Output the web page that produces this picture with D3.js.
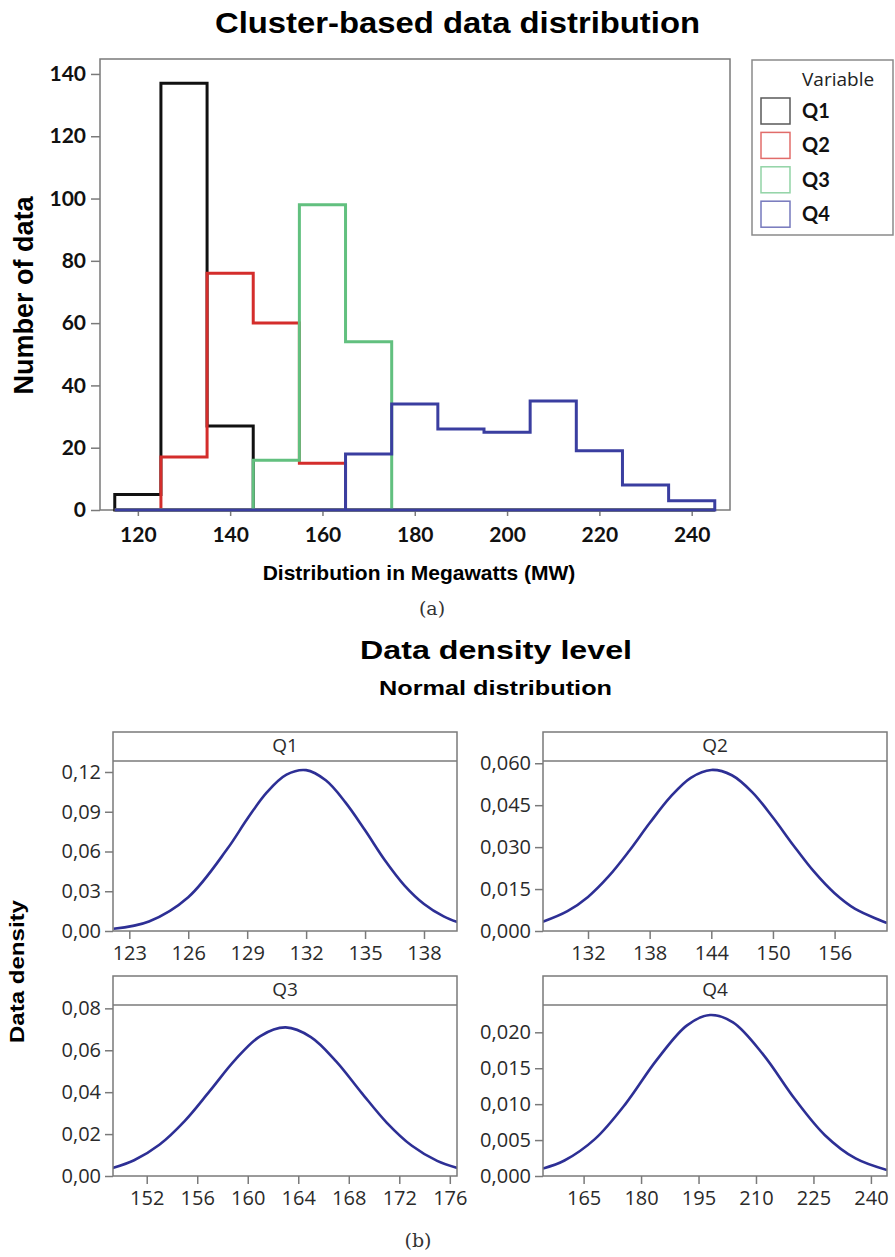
<!DOCTYPE html>
<html>
<head>
<meta charset="utf-8">
<script src="https://cdn.jsdelivr.net/npm/d3@7"></script>
<style>
  body { margin: 0; background: #fff; }
  svg { display: block; }
</style>
</head>
<body>
<svg id="chart" width="895" height="1257"></svg>
<script>
// (a) histogram: counts per 10 MW bin, bins start at binStarts
const seriesNames = ['Q1', 'Q2', 'Q3', 'Q4'];
const binStarts = [115, 125, 135, 145, 155, 165, 175, 185, 195, 205, 215, 225, 235];
const binWidth = 10;
const q1Counts = [5, 137, 27, 0, 0, 0, 0, 0, 0, 0, 0, 0, 0];
const q2Counts = [0, 17, 76, 60, 15, 0, 0, 0, 0, 0, 0, 0, 0];
const q3Counts = [0, 0, 0, 16, 98, 54, 0, 0, 0, 0, 0, 0, 0];
const q4Counts = [0, 0, 0, 0, 0, 18, 34, 26, 25, 35, 19, 8, 3];
const histXLimits = [111.8, 248.3];
const histYLimits = [0, 144.8];
const histXTicks = [120, 140, 160, 180, 200, 220, 240];
const histYTicks = [0, 20, 40, 60, 80, 100, 120, 140];

// (b) fitted normal curves as [MW, density]
const q1Density = [[122.2, 0.0017], [124, 0.0072], [126, 0.0255], [128, 0.0622], [129, 0.0845], [130, 0.1046],
  [131, 0.118], [132, 0.1214], [133, 0.1137], [134, 0.0971], [135, 0.0760], [136, 0.0536], [137, 0.0345],
  [138, 0.0204], [139, 0.0110], [139.7, 0.0067]];
const q2Density = [[127.6, 0.0033], [130, 0.0071], [132, 0.0122], [134, 0.0195], [136, 0.0286], [138, 0.0386],
  [140, 0.0479], [142, 0.0548], [144, 0.0576], [146, 0.0557], [148, 0.0496], [150, 0.0406], [152, 0.0306],
  [154, 0.0212], [156, 0.0135], [158, 0.0079], [161.1, 0.0029]];
const q3Density = [[149.3, 0.0038], [151, 0.0075], [153, 0.0149], [155, 0.0262], [157, 0.0406], [159, 0.0554],
  [161, 0.0668], [163, 0.0709], [165, 0.0663], [167, 0.0547], [169, 0.0398], [171, 0.0255], [173, 0.0144],
  [175, 0.0072], [176.6, 0.0038]];
const q4Density = [[154.4, 0.00104], [160, 0.00216], [168, 0.00517], [176, 0.01008], [184, 0.01609], [192, 0.02097],
  [198, 0.0224], [204, 0.02138], [212, 0.01682], [220, 0.01081], [228, 0.00568], [236, 0.00244], [244.2, 0.00083]];
const densityXLimits = [[122.17, 139.68], [127.62, 161.1], [149.33, 176.57], [154.4, 244.2]];
const densityYLimits = [[0, 0.1283], [0, 0.0608], [0, 0.0816], [0, 0.0238]];
const densityXTicks = [[123, 126, 129, 132, 135, 138], [132, 138, 144, 150, 156],
  [152, 156, 160, 164, 168, 172, 176], [165, 180, 195, 210, 225, 240]];
const densityYTicks = [[0, 0.03, 0.06, 0.09, 0.12], [0, 0.015, 0.03, 0.045, 0.06],
  [0, 0.02, 0.04, 0.06, 0.08], [0, 0.005, 0.01, 0.015, 0.02]];
const densityDecimals = [2, 3, 2, 3];

const seriesColors = ['#111111', '#d42d2b', '#62c07f', '#3a3ea0'];
const curveColor = '#2d2f95';
const frameColor = '#7a7a7a';

const svg = d3.select('#chart');

function drawHistogram() {
  const box = { left: 100, right: 730, top: 59, bottom: 510 };
  const x = d3.scaleLinear().domain(histXLimits).range([box.left, box.right]);
  const y = d3.scaleLinear().domain(histYLimits).range([box.bottom, box.top]);

  svg.append('text')
    .attr('x', 215).attr('y', 33)
    .attr('textLength', 485).attr('lengthAdjust', 'spacingAndGlyphs')
    .style('font', 'bold 30px "Liberation Sans", Arial, sans-serif')
    .text('Cluster-based data distribution');

  svg.append('rect')
    .attr('x', box.left).attr('y', box.top)
    .attr('width', box.right - box.left).attr('height', box.bottom - box.top)
    .attr('fill', 'none').attr('stroke', frameColor).attr('stroke-width', 1.5);

  const xAxis = svg.append('g')
    .attr('transform', `translate(0,${box.bottom})`)
    .call(d3.axisBottom(x).tickValues(histXTicks).tickSize(6).tickPadding(11).tickFormat(d3.format('d')));
  const yAxis = svg.append('g')
    .attr('transform', `translate(${box.left},0)`)
    .call(d3.axisLeft(y).tickValues(histYTicks).tickSize(9).tickPadding(5).tickFormat(d3.format('d')));

  [xAxis, yAxis].forEach(g => {
    g.select('.domain').remove();
    g.selectAll('line').attr('stroke', frameColor).attr('stroke-width', 1.5);
    g.selectAll('text').attr('fill', '#111')
      .style('font', 'bold 21px Lato, "Open Sans", sans-serif');
  });

  const line = d3.line().x(d => x(d[0])).y(d => y(d[1])).curve(d3.curveStepAfter);
  const counts = [q1Counts, q2Counts, q3Counts, q4Counts];
  const lastEdge = binStarts[binStarts.length - 1] + binWidth;

  seriesNames.forEach((name, i) => {
    const pts = [[binStarts[0], 0]].concat(binStarts.map((b, j) => [b, counts[i][j]]));
    pts.push([lastEdge, 0]);
    svg.append('path')
      .attr('d', line(pts) + 'Z')
      .attr('fill', 'none')
      .attr('stroke', seriesColors[i])
      .attr('stroke-width', 3)
      .attr('stroke-linejoin', 'miter');
  });

  svg.append('text')
    .attr('x', 419).attr('y', 580).attr('text-anchor', 'middle')
    .style('font', 'bold 21px "Liberation Sans", Arial, sans-serif')
    .text('Distribution in Megawatts (MW)');

  svg.append('text')
    .attr('transform', 'translate(33,295.5) rotate(-90)')
    .attr('text-anchor', 'middle')
    .style('font', 'bold 27px "Liberation Sans", Arial, sans-serif')
    .text('Number of data');

  // legend
  const legend = svg.append('g');
  legend.append('rect')
    .attr('x', 752).attr('y', 60).attr('width', 141).attr('height', 175)
    .attr('fill', '#fff').attr('stroke', '#8a8a8a').attr('stroke-width', 1.5);
  legend.append('text')
    .attr('x', 802).attr('y', 86)
    .style('font', '19px "Open Sans", sans-serif').attr('fill', '#222')
    .text('Variable');
  seriesNames.forEach((name, i) => {
    const top = 98 + i * 34.4;
    legend.append('rect')
      .attr('x', 761).attr('y', top).attr('width', 29).attr('height', 26)
      .attr('fill', '#fff').attr('stroke', seriesColors[i])
      .attr('stroke-opacity', 0.7).attr('stroke-width', 1.5);
    legend.append('text')
      .attr('x', 802).attr('y', top + 20)
      .style('font', 'bold 20px Lato, sans-serif').attr('fill', '#111')
      .text(name);
  });

  svg.append('text')
    .attr('x', 432).attr('y', 615).attr('text-anchor', 'middle')
    .style('font', '19px "DejaVu Serif", serif').attr('fill', '#333')
    .text('(a)');
}

function drawDensityPanels() {
  svg.append('text')
    .attr('x', 360).attr('y', 659)
    .attr('textLength', 272).attr('lengthAdjust', 'spacingAndGlyphs')
    .style('font', 'bold 26px "Liberation Sans", Arial, sans-serif')
    .text('Data density level');
  svg.append('text')
    .attr('x', 379).attr('y', 695)
    .attr('textLength', 233).attr('lengthAdjust', 'spacingAndGlyphs')
    .style('font', 'bold 21px "Liberation Sans", Arial, sans-serif')
    .text('Normal distribution');

  svg.append('text')
    .attr('transform', 'translate(24,971.5) rotate(-90)')
    .attr('text-anchor', 'middle')
    .attr('textLength', 143).attr('lengthAdjust', 'spacingAndGlyphs')
    .style('font', 'bold 21px "Liberation Sans", Arial, sans-serif')
    .text('Data density');

  const layout = [
    { left: 113, right: 457, top: 732, strip: 761, bottom: 931 },
    { left: 543, right: 887, top: 732, strip: 761, bottom: 931 },
    { left: 113, right: 457, top: 976, strip: 1005, bottom: 1176 },
    { left: 543, right: 887, top: 976, strip: 1005, bottom: 1176 }
  ];
  const curves = [q1Density, q2Density, q3Density, q4Density];

  seriesNames.forEach((name, i) => {
    const p = layout[i];
    const x = d3.scaleLinear().domain(densityXLimits[i]).range([p.left, p.right]);
    const y = d3.scaleLinear().domain(densityYLimits[i]).range([p.bottom, p.strip]);
    const fmt = v => d3.format(`.${densityDecimals[i]}f`)(v).replace('.', ',');

    const clipId = `clip-${name}`;
    svg.append('clipPath').attr('id', clipId)
      .append('rect')
      .attr('x', p.left).attr('y', p.strip)
      .attr('width', p.right - p.left).attr('height', p.bottom - p.strip);

    const xAxis = svg.append('g')
      .attr('transform', `translate(0,${p.bottom})`)
      .call(d3.axisBottom(x).tickValues(densityXTicks[i]).tickSize(8).tickPadding(7).tickFormat(d3.format('d')));
    const yAxis = svg.append('g')
      .attr('transform', `translate(${p.left},0)`)
      .call(d3.axisLeft(y).tickValues(densityYTicks[i]).tickSize(8).tickPadding(4).tickFormat(fmt));
    [xAxis, yAxis].forEach(g => {
      g.select('.domain').remove();
      g.selectAll('line').attr('stroke', frameColor).attr('stroke-width', 1.5);
      g.selectAll('text').attr('fill', '#2a2a2a')
        .style('font', '20px "Open Sans", sans-serif');
    });

    svg.append('path')
      .datum(curves[i])
      .attr('clip-path', `url(#${clipId})`)
      .attr('d', d3.line().x(d => x(d[0])).y(d => y(d[1])).curve(d3.curveCatmullRom))
      .attr('fill', 'none')
      .attr('stroke', curveColor)
      .attr('stroke-width', 2.6);

    svg.append('rect')
      .attr('x', p.left).attr('y', p.top)
      .attr('width', p.right - p.left).attr('height', p.bottom - p.top)
      .attr('fill', 'none').attr('stroke', frameColor).attr('stroke-width', 1.5);
    svg.append('line')
      .attr('x1', p.left).attr('x2', p.right)
      .attr('y1', p.strip).attr('y2', p.strip)
      .attr('stroke', frameColor).attr('stroke-width', 1.5);
    svg.append('text')
      .attr('x', (p.left + p.right) / 2).attr('y', p.top + 20)
      .attr('text-anchor', 'middle')
      .style('font', '19px "Open Sans", sans-serif').attr('fill', '#2a2a2a')
      .text(name);
  });

  svg.append('text')
    .attr('x', 418).attr('y', 1247).attr('text-anchor', 'middle')
    .style('font', '19px "DejaVu Serif", serif').attr('fill', '#333')
    .text('(b)');
}

drawHistogram();
drawDensityPanels();
</script>
</body>
</html>
